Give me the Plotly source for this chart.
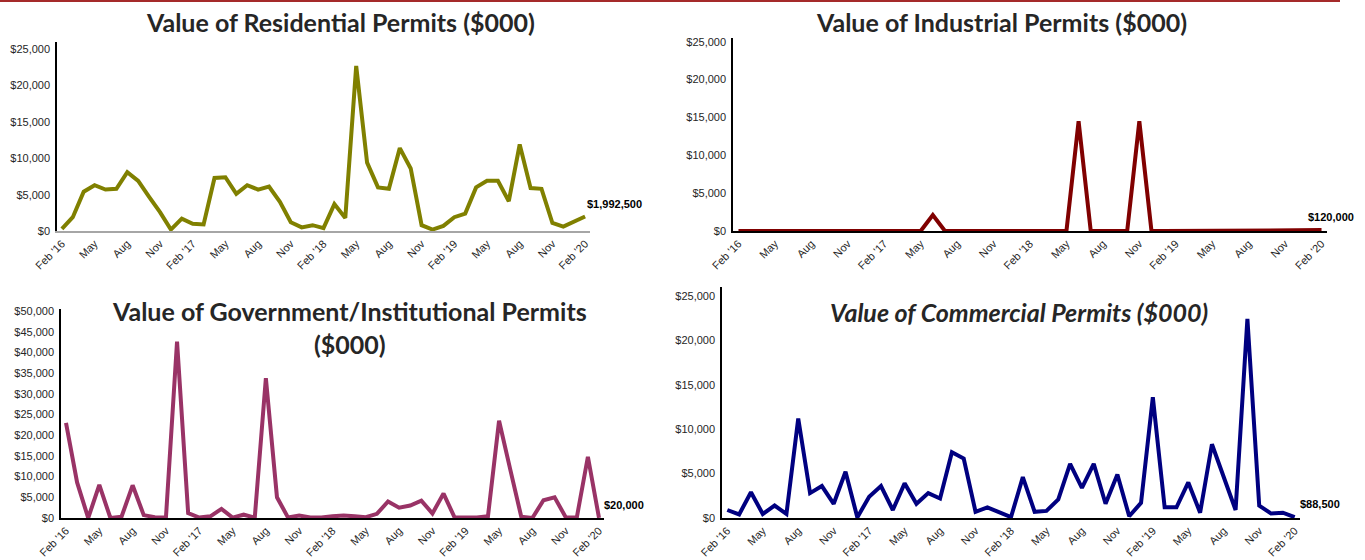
import plotly.graph_objects as go

# ---------------- data ----------------
months = []
mnames = ["Jan", "Feb", "Mar", "Apr", "May", "Jun", "Jul", "Aug", "Sep", "Oct", "Nov", "Dec"]
for y in range(2016, 2021):
    for m in range(12):
        if (y == 2016 and m < 1) or (y == 2020 and m > 1):
            continue
        months.append(f"{mnames[m]} {y}")

tick_months = months[::3]
tick_text = ["Feb '16", "May", "Aug", "Nov", "Feb '17", "May", "Aug", "Nov",
             "Feb '18", "May", "Aug", "Nov", "Feb '19", "May", "Aug", "Nov", "Feb '20"]

residential = [300, 1900, 5400, 6300, 5700, 5800, 8100, 6900, 4700, 2600, 200, 1700,
               1000, 900, 7300, 7400, 5100, 6300, 5700, 6100, 4000, 1200, 500, 800,
               400, 3700, 1800, 22700, 9400, 6000, 5800, 11400, 8600, 800, 200, 700,
               1900, 2400, 6000, 6900, 6900, 4100, 11900, 5900, 5800, 1100, 600, 1300,
               1992.5]
industrial = [0, 0, 0, 0, 0, 0, 0, 0, 0, 0, 0, 0,
              0, 0, 0, 0, 2100, 0, 0, 0, 0, 100, 0, 0,
              0, 0, 0, 0, 14500, 0, 0, 0, 0, 14500, 0, 0,
              0, 100, 0, 0, 0, 0, 0, 0, 100, 0, 0, 0,
              120]
government = [23000, 8600, 0, 8000, 0, 300, 7900, 700, 200, 100, 42600, 1200,
              100, 400, 2200, 100, 800, 100, 33800, 5000, 100, 600, 100, 100,
              400, 600, 400, 200, 1000, 4000, 2500, 3000, 4200, 1100, 5900, 100,
              100, 100, 400, 23500, 11800, 300, 0, 4300, 5000, 200, 100, 14800,
              20]
commercial = [900, 400, 2900, 450, 1400, 450, 11200, 2800, 3600, 1600, 5200, 70,
              2400, 3600, 900, 3900, 1600, 2800, 2200, 7400, 6700, 700, 1200, 600,
              100, 4600, 700, 800, 2100, 6100, 3400, 6100, 1600, 4900, 200, 1700,
              13600, 1200, 1200, 4000, 600, 8300, 4700, 900, 22400, 1400, 500, 600,
              88.5]

titles = ["Value of Residential Permits ($000)",
          "Value of Industrial Permits ($000)",
          "Value of Government/Institutional Permits<br>($000)",
          "<i>Value of Commercial Permits ($000)</i>"]
end_labels = ["$1,992,500", "$120,000", "$20,000", "$88,500"]
colors = ["#808000", "#800000", "#993366", "#000080"]

# ---------------- layout ----------------
W, H = 1365, 560
panels = [
    # (series, x0px, x1px, ytop_px, ybot_px, ymax, dtick, baseline color, label xshift)
    (residential, 57, 590, 42, 231, 26000, 5000, "#a6a6a6", 0),
    (industrial, 733, 1327, 38, 231, 25500, 5000, "#000000", -16),
    (government, 61, 604, 309, 518, 50500, 5000, "#000000", 3),
    (commercial, 722, 1300, 287, 518, 26000, 5000, "#000000", 3),
]

fig = go.Figure()
layout = dict(width=W, height=H, margin=dict(l=0, r=0, t=0, b=0, autoexpand=False),
              template="none",
              paper_bgcolor="white", plot_bgcolor="white", showlegend=False,
              annotations=[], shapes=[])

tick_font = dict(family="Liberation Sans, Arial", size=11, color="#262626")
for i, (series, x0, x1, yt, yb, ymax, dt, bcol, lshift) in enumerate(panels):
    n = "" if i == 0 else str(i + 1)
    fig.add_trace(go.Scatter(x=months, y=series, mode="lines",
                             line=dict(color=colors[i], width=4),
                             xaxis="x" + n, yaxis="y" + n, hoverinfo="skip"))
    layout["xaxis" + n] = dict(
        domain=[x0 / W, x1 / W], anchor="y" + n, type="category",
        range=[-0.45, len(months) - 0.55], automargin=False,
        tickmode="array", tickvals=tick_months, ticktext=tick_text,
        tickangle=-45, tickfont=dict(family="Liberation Sans, Arial", size=11, color="#262626"),
        showgrid=False, zeroline=False, showline=True, linecolor=bcol, linewidth=2,
        ticks="", fixedrange=True)
    layout["yaxis" + n] = dict(
        domain=[1 - yb / H, 1 - yt / H], anchor="x" + n, automargin=False,
        range=[0, ymax], dtick=dt, tick0=0, tickprefix="$", tickformat=",d",
        tickfont=tick_font,
        showgrid=False, zeroline=False, showline=True, linecolor="#000000", linewidth=1.5,
        ticks="outside", ticklen=3, tickcolor="rgba(0,0,0,0)", fixedrange=True)
    layout["annotations"].append(dict(
        x=months[-1], y=series[-1], xref="x" + n, yref="y" + n,
        text="<b>" + end_labels[i] + "</b>", showarrow=False,
        xanchor="left", yanchor="bottom", xshift=lshift, yshift=5,
        font=dict(family="Liberation Sans, Arial", size=11, color="#000000")))

title_pos = [(340, 22), (1002, 22), (350, 327), (1019, 312)]
for i, (cx, cy) in enumerate(title_pos):
    layout["annotations"].append(dict(
        x=cx / W, y=1 - cy / H, xref="paper", yref="paper",
        text="<b>" + titles[i] + "</b>", showarrow=False,
        xanchor="center", yanchor="middle",
        font=dict(family="Lato", size=25, color="#262626")))

layout["shapes"].append(dict(type="line", xref="paper", yref="paper",
                             x0=0, x1=1340 / W, y0=1 - 1 / H, y1=1 - 1 / H,
                             line=dict(color="#a52a2a", width=2)))

fig.update_layout(**layout)
fig.write_html("out.html", config={"displayModeBar": False},
               post_script="document.body.style.margin='0px';document.body.style.overflow='hidden';")
